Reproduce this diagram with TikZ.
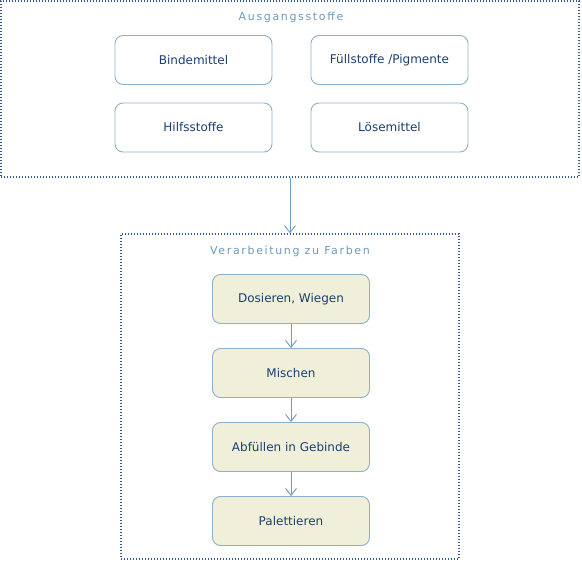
\documentclass[tikz,border=0pt]{standalone}
\usepackage{fontspec}
\setmainfont{DejaVu Sans}
\newfontfamily\titlefont[LetterSpace=15]{DejaVu Sans}
\usetikzlibrary{arrows.meta,positioning}
\definecolor{boxline}{HTML}{8FB0CC}
\definecolor{arrowline}{HTML}{6F9CC3}
\definecolor{textblue}{HTML}{1C3F6E}
\definecolor{titleblue}{HTML}{6F98BB}
\definecolor{stepfill}{HTML}{F0F0DA}
\definecolor{frameline}{HTML}{35598A}
\tikzset{
  frame/.style={draw=frameline, line width=1.4pt, dash pattern=on 1.4pt off 1.6pt},
  title/.style={text=titleblue, font=\titlefont\fontsize{11}{13}\selectfont},
  stuff/.style={draw=boxline, line width=0.9pt, rounded corners=8pt, fill=white,
    minimum width=157pt, minimum height=49pt, text=textblue,
    font=\fontsize{12}{14}\selectfont},
  stepbox/.style={stuff, fill=stepfill},
  flow/.style={draw=arrowline, line width=0.9pt, -{Straight Barb[length=7pt,width=11pt]}}
}
\begin{document}
\begin{tikzpicture}[x=1pt,y=-1pt]
	\useasboundingbox (0,0) rectangle (582,562);

	%Frame Ausgangsstoffe
	\node[frame, minimum width=578pt, minimum height=176pt] (raw) at (290,89) {};
	\node[title] (rawtitle) at (291,17) {Ausgangsstoffe};

	%Stoffe
	\node[stuff] (binder) at (193.5,60) {Bindemittel};
	\node[stuff] (filler) at (389.5,60) {Füllstoffe /Pigmente};
	\node[stuff] (aux) at (193.5,127.5) {Hilfsstoffe};
	\node[stuff] (solvent) at (389.5,127.5) {Lösemittel};

	%Frame Verarbeitung
	\node[frame, minimum width=338pt, minimum height=325pt] (proc) at (290,396.5) {};
	\node[title] (proctitle) at (290,251) {Verarbeitung zu Farben};

	%Schritte
	\node[stepbox] (dose) at (291,299) {Dosieren, Wiegen};
	\node[stepbox] (mix) at (291,373) {Mischen};
	\node[stepbox] (fill) at (291,447) {Abfüllen in Gebinde};
	\node[stepbox] (pallet) at (291,521) {Palettieren};

	%Pfeile
	\draw[flow] (raw.south) -- (proc.north);
	\draw[flow] (dose) -- (mix);
	\draw[flow] (mix) -- (fill);
	\draw[flow] (fill) -- (pallet);

\end{tikzpicture}
\end{document}
